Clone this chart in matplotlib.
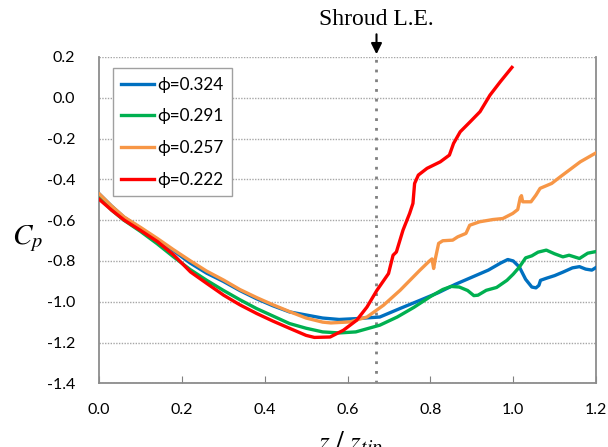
import matplotlib
matplotlib.use("Agg")
import matplotlib.pyplot as plt

plt.rcParams['mathtext.fontset'] = 'stix'

# ---- data ----
labels = ["ϕ=0.324", "ϕ=0.291", "ϕ=0.257", "ϕ=0.222"]
colors = ["#0070C0", "#00B050", "#F79646", "#FF0000"]

x_324 = [0, 0.03, 0.06, 0.10, 0.14, 0.18, 0.22, 0.26, 0.30, 0.34, 0.38, 0.42, 0.46, 0.50, 0.54,
         0.58, 0.62, 0.678, 0.727, 0.775, 0.82, 0.86, 0.90, 0.94, 0.97, 0.987, 1.0, 1.015, 1.03,
         1.045, 1.055, 1.062, 1.066, 1.08, 1.10, 1.12, 1.143, 1.16, 1.175, 1.19, 1.20]
y_324 = [-0.47, -0.53, -0.585, -0.64, -0.695, -0.75, -0.81, -0.86, -0.90, -0.945, -0.985, -1.02,
         -1.05, -1.065, -1.08, -1.087, -1.083, -1.075, -1.033, -0.993, -0.955, -0.915, -0.88,
         -0.845, -0.81, -0.793, -0.80, -0.83, -0.89, -0.928, -0.932, -0.92, -0.895, -0.885,
         -0.872, -0.855, -0.834, -0.828, -0.84, -0.845, -0.832]

x_291 = [0, 0.03, 0.06, 0.10, 0.14, 0.18, 0.22, 0.26, 0.30, 0.34, 0.38, 0.42, 0.46, 0.50, 0.54,
         0.58, 0.62, 0.678, 0.72, 0.76, 0.80, 0.83, 0.85, 0.87, 0.89, 0.905, 0.915, 0.935, 0.96,
         0.985, 1.0, 1.015, 1.03, 1.045, 1.06, 1.08, 1.10, 1.12, 1.135, 1.16, 1.18, 1.20]
y_291 = [-0.486, -0.55, -0.60, -0.655, -0.715, -0.78, -0.842, -0.895, -0.944, -0.99, -1.033,
         -1.07, -1.107, -1.13, -1.148, -1.153, -1.148, -1.115, -1.075, -1.028, -0.975, -0.94,
         -0.925, -0.928, -0.945, -0.97, -0.968, -0.944, -0.93, -0.895, -0.865, -0.83, -0.785,
         -0.775, -0.757, -0.747, -0.765, -0.78, -0.772, -0.788, -0.762, -0.754]

x_257 = [0, 0.03, 0.061, 0.10, 0.141, 0.18, 0.221, 0.26, 0.301, 0.34, 0.381, 0.42, 0.462, 0.50,
         0.54, 0.56, 0.606, 0.647, 0.687, 0.727, 0.775, 0.798, 0.804, 0.808, 0.812, 0.82, 0.83,
         0.854, 0.866, 0.886, 0.895, 0.919, 0.951, 0.975, 0.999, 1.011, 1.017, 1.02, 1.023,
         1.043, 1.055, 1.065, 1.093, 1.114, 1.162, 1.20]
y_257 = [-0.47, -0.53, -0.585, -0.635, -0.69, -0.745, -0.80, -0.85, -0.894, -0.94, -0.98, -1.015,
         -1.05, -1.08, -1.10, -1.104, -1.099, -1.075, -1.017, -0.944, -0.845, -0.80, -0.79,
         -0.837, -0.79, -0.714, -0.701, -0.698, -0.682, -0.665, -0.625, -0.608, -0.597, -0.592,
         -0.567, -0.548, -0.49, -0.48, -0.51, -0.51, -0.477, -0.444, -0.42, -0.387, -0.314, -0.27]

x_222 = [0, 0.03, 0.061, 0.10, 0.141, 0.18, 0.221, 0.26, 0.301, 0.34, 0.381, 0.42, 0.462, 0.50,
         0.52, 0.558, 0.59, 0.622, 0.647, 0.671, 0.699, 0.71, 0.718, 0.734, 0.75, 0.758, 0.762,
         0.771, 0.792, 0.824, 0.846, 0.856, 0.872, 0.896, 0.92, 0.944, 0.969, 0.997]
y_222 = [-0.497, -0.55, -0.60, -0.65, -0.705, -0.77, -0.854, -0.91, -0.968, -1.015, -1.058,
         -1.095, -1.132, -1.165, -1.175, -1.173, -1.14, -1.091, -1.026, -0.944, -0.862, -0.772,
         -0.756, -0.649, -0.567, -0.518, -0.42, -0.379, -0.346, -0.314, -0.281, -0.224, -0.167,
         -0.118, -0.068, 0.013, 0.079, 0.149]

series_x = [x_324, x_291, x_257, x_222]
series_y = [y_324, y_291, y_257, y_222]

x_ticks = [0.0, 0.2, 0.4, 0.6, 0.8, 1.0, 1.2]
y_ticks = [0.2, 0.0, -0.2, -0.4, -0.6, -0.8, -1.0, -1.2, -1.4]
shroud_le = 0.67

# ---- figure ----
fig = plt.figure(figsize=(6.08, 4.47), dpi=100)
ax = fig.add_axes([0.1628, 0.1425, 0.8175, 0.73])

ax.set_xlim(0, 1.2)
ax.set_ylim(-1.4, 0.2)

for y in y_ticks:
    ax.axhline(y, color="#A6A6A6", lw=1.0, ls=(0, (1, 1)), zorder=1)

ax.axvline(shroud_le, color="#808080", lw=2.0, ls=(0, (1, 2.5)), zorder=1)

for xs, ys, c, lab in zip(series_x, series_y, colors, labels):
    ax.plot(xs, ys, color=c, lw=2.4, label=lab, zorder=3, solid_joinstyle='round')

ax.set_xticks(x_ticks)
ax.set_xticklabels([f"{v:.1f}" for v in x_ticks])
ax.set_yticks(y_ticks)
ax.set_yticklabels([f"{v:.1f}" for v in y_ticks])
ax.tick_params(axis='x', direction='in', length=5, color="#808080", pad=14,
               labelsize=11.5)
ax.tick_params(axis='y', length=0, pad=17, labelsize=11.5)
for lbl in ax.get_xticklabels() + ax.get_yticklabels():
    lbl.set_fontfamily('Lato')

for s in ['left', 'bottom', 'right']:
    ax.spines[s].set_color("#8C8C8C")
    ax.spines[s].set_linewidth(1.3)
ax.spines['top'].set_visible(False)

leg = ax.legend(loc='upper left', bbox_to_anchor=(0.028, 0.966), borderaxespad=0,
                frameon=True, fancybox=False, edgecolor="#A0A0A0", framealpha=1,
                prop={'family': ['Lato', 'DejaVu Sans'], 'size': 12.3},
                handlelength=1.9, handletextpad=0.2, labelspacing=0.92, borderpad=0.5)
leg.get_frame().set_linewidth(1.0)

# axis labels
fig.text(0.045, 0.467, r"$C_p$", fontsize=21, ha='center', va='center')
fig.text(0.576, 0.005, r"$z\ /\ z_{tip}$", fontsize=20, ha='center', va='center')

# annotation
ax.annotate("", xy=(shroud_le, 0.2), xytext=(shroud_le, 0.325),
            xycoords='data', annotation_clip=False,
            arrowprops=dict(arrowstyle='-|>', color='black', lw=1.5, mutation_scale=16))
ax.text(shroud_le, 0.386, "Shroud L.E.", family='Liberation Serif', fontsize=17,
        ha='center', va='center', clip_on=False)

fig.savefig("out.png", dpi=100)
